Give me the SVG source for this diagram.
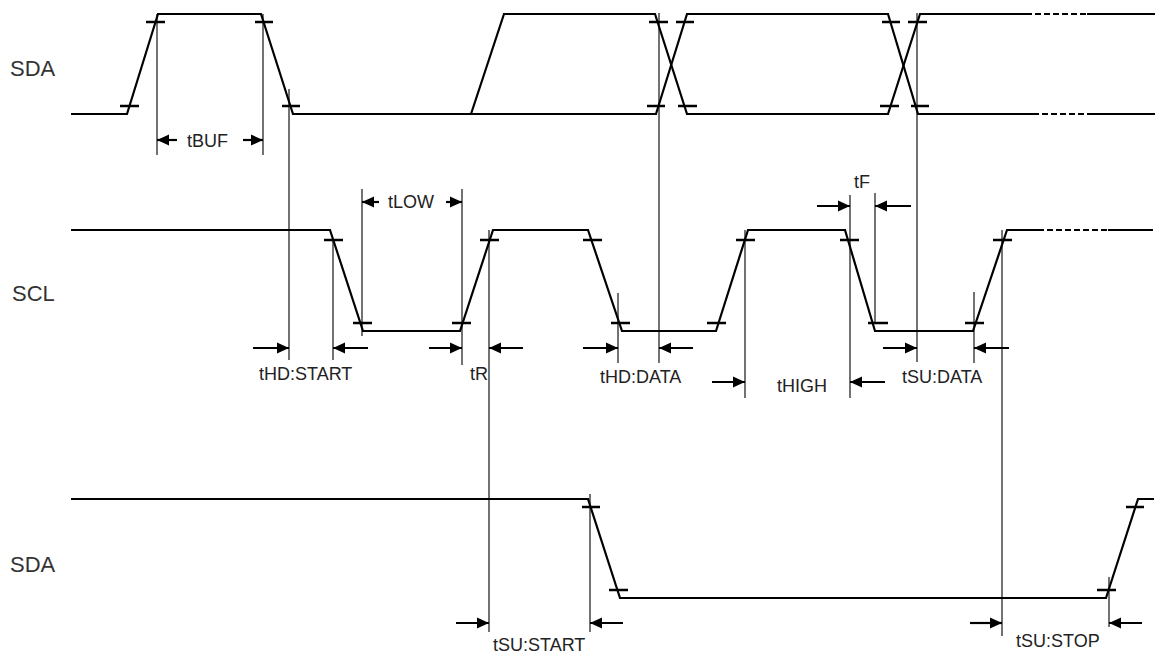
<svg xmlns="http://www.w3.org/2000/svg" width="1157" height="657" viewBox="0 0 1157 657">
  <style>
    .wave { fill: none; stroke: #000; stroke-width: 2.2; stroke-linejoin: miter; }
    .dash { fill: none; stroke: #000; stroke-width: 2.2; stroke-dasharray: 6 3; }
    .tick { stroke: #000; stroke-width: 2.4; }
    .ref { stroke: #000; stroke-width: 1.1; }
    .dim { stroke: #000; stroke-width: 2.2; marker-end: url(#ah); }
    .sig { font-family: "Liberation Sans", Arial, sans-serif; font-size: 22px; fill: #333; }
    .lbl { font-family: "Liberation Sans", Arial, sans-serif; font-size: 18px; fill: #222; }
  </style>
  <defs>
    <marker id="ah" markerUnits="userSpaceOnUse" markerWidth="14" markerHeight="14" viewBox="0 0 14 14" refX="12" refY="7" orient="auto">
      <path d="M0,1.5 L12,7 L0,12.5 Z" fill="#000"/>
    </marker>
  </defs>
  <rect width="1157" height="657" fill="#fff"/>

  <g id="sda-top">
    <text class="sig" x="10" y="76">SDA</text>
    <path class="wave" d="M71,114 H127 L158,14 H261 L293,114 H471 L504,14 H655 L687,114 H888 L920,14 H1026"/>
    <path class="wave" d="M471,114 H656 L687,14 H888 L918,114 H1033"/>
    <path class="dash" d="M1026,14 H1087 M1033,114 H1087"/>
    <path class="wave" d="M1087,14 H1155 M1087,114 H1155"/>
    <path class="tick" d="M120,106 H139 M146,22 H165 M255,22 H273 M282,106 H300 M649,22 H668 M676,22 H694 M647,106 H665 M678,106 H697 M882,22 H900 M908,22 H927 M880,106 H899 M911,106 H929"/>
  </g>

  <g id="scl">
    <text class="sig" x="12" y="301">SCL</text>
    <path class="wave" d="M71,230 H330 L363,331 H460 L493,230 H588 L622,331 H716 L748,230 H845 L875,331 H973 L1007,230 H1038"/>
    <path class="dash" d="M1038,230 H1108"/>
    <path class="wave" d="M1108,230 H1153"/>
    <path class="tick" d="M324,240 H343 M480,240 H499 M583,240 H602 M736,240 H755 M840,240 H859 M993,240 H1012 M353,323 H372 M452,323 H471 M611,323 H630 M707,323 H726 M868,323 H888 M965,323 H984"/>
  </g>

  <g id="sda-bottom">
    <text class="sig" x="10" y="572">SDA</text>
    <path class="wave" d="M71,499 H588 L620,598 H1106 L1138,499 H1154"/>
    <path class="tick" d="M582,507 H600 M1126,507 H1144 M609,590 H628 M1097,590 H1116"/>
  </g>

  <g id="reference-lines">
    <path class="ref" d="M157,14 V155 M263,14 V155 M289,89 V360 M333,240 V360 M362,189 V336 M462,189 V365 M489,230 V632 M590,494 V632 M618,293 V363 M659,13 V363 M745,230 V398 M850,195 V398 M875,193 V323 M917,13 V362 M974,292 V363 M1002,230 V636 M1109,577 V627"/>
  </g>

  <g id="connectors">
    <line class="dim" x1="177" y1="140" x2="157" y2="140"/>
    <line class="dim" x1="243" y1="140" x2="263" y2="140"/>
    <line class="dim" x1="379" y1="202" x2="362" y2="202"/>
    <line class="dim" x1="446" y1="202" x2="462" y2="202"/>
    <line class="dim" x1="253" y1="348" x2="289" y2="348"/>
    <line class="dim" x1="368" y1="348" x2="333" y2="348"/>
    <line class="dim" x1="429" y1="348" x2="462" y2="348"/>
    <line class="dim" x1="523" y1="348" x2="489" y2="348"/>
    <line class="dim" x1="583" y1="348" x2="618" y2="348"/>
    <line class="dim" x1="693" y1="348" x2="659" y2="348"/>
    <line class="dim" x1="712" y1="382" x2="745" y2="382"/>
    <line class="dim" x1="885" y1="382" x2="850" y2="382"/>
    <line class="dim" x1="817" y1="206" x2="850" y2="206"/>
    <line class="dim" x1="911" y1="206" x2="875" y2="206"/>
    <line class="dim" x1="883" y1="348" x2="917" y2="348"/>
    <line class="dim" x1="1009" y1="348" x2="974" y2="348"/>
    <line class="dim" x1="456" y1="623" x2="489" y2="623"/>
    <line class="dim" x1="623" y1="623" x2="590" y2="623"/>
    <line class="dim" x1="970" y1="623" x2="1002" y2="623"/>
    <line class="dim" x1="1142" y1="623" x2="1109" y2="623"/>
  </g>

  <g id="labels">
    <text class="lbl" x="187" y="147">tBUF</text>
    <text class="lbl" x="388" y="208">tLOW</text>
    <text class="lbl" x="259" y="380">tHD:START</text>
    <text class="lbl" x="470" y="380">tR</text>
    <text class="lbl" x="600" y="383">tHD:DATA</text>
    <text class="lbl" x="777" y="392">tHIGH</text>
    <text class="lbl" x="854" y="188">tF</text>
    <text class="lbl" x="902" y="383">tSU:DATA</text>
    <text class="lbl" x="493" y="651">tSU:START</text>
    <text class="lbl" x="1016" y="647">tSU:STOP</text>
  </g>
</svg>
